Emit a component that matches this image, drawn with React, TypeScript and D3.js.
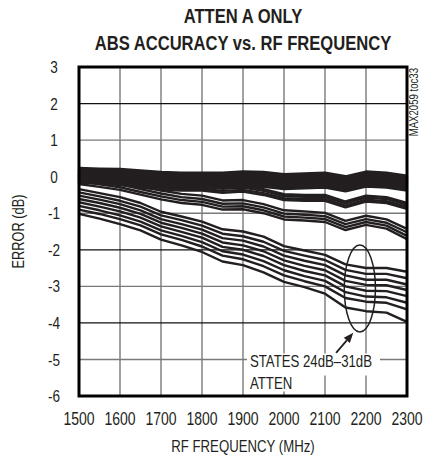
import React from "react";
import * as d3 from "d3";

const FREQS = [1500, 1550, 1600, 1650, 1700, 1750, 1800, 1850, 1900, 1950, 2000, 2050, 2100, 2150, 2200, 2250, 2300];
const X_TICKS = [1500, 1600, 1700, 1800, 1900, 2000, 2100, 2200, 2300];
const Y_TICKS = [3, 2, 1, 0, -1, -2, -3, -4, -5, -6];

// States grouped in the upper bundle (near 0 dB)
const TOP_BUNDLE = [
  [0.24, 0.22, 0.21, 0.17, 0.13, 0.11, 0.11, 0.11, 0.14, 0.13, 0.07, 0.09, 0.11, 0.01, 0.14, 0.11, 0.03],
  [0.21, 0.19, 0.18, 0.14, 0.10, 0.08, 0.08, 0.08, 0.11, 0.10, 0.04, 0.06, 0.08, -0.02, 0.11, 0.08, 0.00],
  [0.18, 0.16, 0.15, 0.11, 0.07, 0.05, 0.05, 0.05, 0.08, 0.07, 0.01, 0.03, 0.05, -0.05, 0.08, 0.05, -0.03],
  [0.15, 0.13, 0.12, 0.08, 0.04, 0.02, 0.02, 0.02, 0.05, 0.04, -0.02, 0.00, 0.02, -0.08, 0.05, 0.02, -0.06],
  [0.13, 0.11, 0.10, 0.06, 0.02, 0.00, 0.00, 0.00, 0.03, 0.02, -0.04, -0.02, 0.00, -0.10, 0.03, 0.00, -0.08],
  [0.10, 0.08, 0.07, 0.03, -0.01, -0.03, -0.03, -0.03, 0.00, -0.01, -0.07, -0.05, -0.03, -0.13, 0.00, -0.03, -0.11],
  [0.07, 0.05, 0.04, 0.00, -0.04, -0.06, -0.06, -0.06, -0.03, -0.04, -0.10, -0.08, -0.06, -0.16, -0.03, -0.06, -0.14],
  [0.05, 0.03, 0.02, -0.02, -0.06, -0.08, -0.08, -0.08, -0.05, -0.06, -0.12, -0.10, -0.08, -0.18, -0.05, -0.08, -0.16],
  [0.02, 0.00, -0.01, -0.05, -0.09, -0.11, -0.11, -0.11, -0.08, -0.09, -0.15, -0.13, -0.11, -0.21, -0.08, -0.11, -0.19],
  [-0.01, -0.03, -0.04, -0.08, -0.12, -0.14, -0.14, -0.14, -0.11, -0.12, -0.18, -0.16, -0.14, -0.24, -0.11, -0.14, -0.22],
  [-0.03, -0.05, -0.06, -0.10, -0.14, -0.16, -0.16, -0.16, -0.13, -0.14, -0.20, -0.18, -0.16, -0.26, -0.13, -0.16, -0.24],
  [-0.06, -0.08, -0.09, -0.13, -0.17, -0.19, -0.19, -0.19, -0.16, -0.17, -0.23, -0.21, -0.19, -0.29, -0.16, -0.19, -0.27],
  [-0.09, -0.11, -0.12, -0.16, -0.20, -0.22, -0.22, -0.22, -0.19, -0.20, -0.26, -0.24, -0.22, -0.32, -0.19, -0.22, -0.30],
  [-0.11, -0.13, -0.14, -0.18, -0.22, -0.24, -0.24, -0.24, -0.21, -0.22, -0.28, -0.26, -0.24, -0.34, -0.21, -0.24, -0.32],
  [-0.14, -0.16, -0.17, -0.21, -0.25, -0.27, -0.27, -0.27, -0.24, -0.25, -0.31, -0.29, -0.27, -0.37, -0.24, -0.27, -0.35],
  [-0.17, -0.19, -0.20, -0.24, -0.28, -0.30, -0.30, -0.30, -0.27, -0.28, -0.34, -0.32, -0.30, -0.40, -0.27, -0.30, -0.38],
];

// Second group (around -0.8 dB at 2300 MHz)
const MID_GROUP = [
  [0.03, -0.02, -0.07, -0.14, -0.20, -0.22, -0.22, -0.28, -0.25, -0.34, -0.48, -0.50, -0.50, -0.68, -0.52, -0.56, -0.72],
  [-0.02, -0.07, -0.12, -0.19, -0.25, -0.27, -0.27, -0.33, -0.30, -0.39, -0.53, -0.55, -0.55, -0.73, -0.57, -0.61, -0.77],
  [-0.08, -0.13, -0.18, -0.25, -0.31, -0.33, -0.33, -0.39, -0.36, -0.45, -0.59, -0.61, -0.61, -0.79, -0.63, -0.67, -0.83],
  [-0.13, -0.18, -0.23, -0.30, -0.36, -0.38, -0.38, -0.44, -0.41, -0.50, -0.64, -0.66, -0.66, -0.84, -0.68, -0.72, -0.88],
];

// Third group (around -1.6 dB at 2300 MHz)
const THIRD_GROUP = [
  [0.02, -0.06, -0.13, -0.26, -0.38, -0.47, -0.52, -0.65, -0.64, -0.75, -0.92, -0.95, -0.99, -1.21, -1.07, -1.17, -1.43],
  [-0.06, -0.14, -0.21, -0.34, -0.46, -0.56, -0.61, -0.74, -0.73, -0.84, -1.01, -1.04, -1.08, -1.30, -1.16, -1.26, -1.52],
  [-0.13, -0.21, -0.29, -0.42, -0.54, -0.64, -0.69, -0.82, -0.81, -0.92, -1.09, -1.12, -1.16, -1.38, -1.24, -1.34, -1.62],
  [-0.20, -0.28, -0.36, -0.49, -0.62, -0.72, -0.77, -0.90, -0.89, -1.00, -1.17, -1.20, -1.24, -1.46, -1.32, -1.42, -1.71],
];

// States 24dB–31dB
const STATES_24_31 = [
  [-0.34, -0.45, -0.56, -0.72, -0.96, -1.09, -1.23, -1.44, -1.50, -1.64, -1.90, -2.02, -2.14, -2.40, -2.50, -2.50, -2.60],
  [-0.43, -0.54, -0.66, -0.82, -1.06, -1.19, -1.34, -1.56, -1.63, -1.78, -2.03, -2.16, -2.28, -2.55, -2.66, -2.66, -2.78],
  [-0.52, -0.63, -0.75, -0.92, -1.16, -1.30, -1.45, -1.68, -1.75, -1.91, -2.16, -2.30, -2.42, -2.70, -2.82, -2.82, -2.95],
  [-0.61, -0.72, -0.85, -1.02, -1.26, -1.40, -1.56, -1.80, -1.88, -2.04, -2.29, -2.44, -2.56, -2.85, -2.96, -2.97, -3.10],
  [-0.70, -0.82, -0.95, -1.12, -1.36, -1.51, -1.67, -1.92, -2.00, -2.17, -2.42, -2.58, -2.70, -3.00, -3.12, -3.13, -3.27],
  [-0.80, -0.92, -1.06, -1.23, -1.47, -1.62, -1.79, -2.04, -2.13, -2.31, -2.56, -2.72, -2.85, -3.16, -3.28, -3.30, -3.45],
  [-0.90, -1.02, -1.16, -1.33, -1.58, -1.73, -1.91, -2.16, -2.26, -2.45, -2.70, -2.86, -3.00, -3.32, -3.42, -3.45, -3.63],
  [-1.02, -1.15, -1.30, -1.47, -1.72, -1.88, -2.06, -2.32, -2.42, -2.62, -2.88, -3.02, -3.20, -3.58, -3.68, -3.72, -3.97],
];

const TITLE_LINES = ["ATTEN A ONLY", "ABS ACCURACY vs. RF FREQUENCY"];
const X_LABEL = "RF FREQUENCY (MHz)";
const Y_LABEL = "ERROR (dB)";
const SIDE_LABEL = "MAX2059 toc33";
const ANNOT_LINES = ["STATES 24dB\u201331dB", "ATTEN"];

const W = 424;
const H = 457;
const LEFT = 79;
const RIGHT = 407;
const TOP = 67;
const BOTTOM = 396;
const FONT = "'Liberation Sans', Arial, sans-serif";
const INK = "#231f20";
const NARROW = 0.8;

type NTProps = {
  x: number;
  y: number;
  rotate?: number;
  anchor?: "start" | "middle" | "end";
  size: number;
  bold?: boolean;
  dy?: string;
  sx?: number;
  children: React.ReactNode;
};

function NText({ x, y, rotate = 0, anchor = "start", size, bold, dy, sx = NARROW, children }: NTProps) {
  return (
    <g transform={`translate(${x},${y}) rotate(${rotate}) scale(${sx},1)`}>
      <text x={0} y={0} dy={dy} textAnchor={anchor} fontSize={size} fontWeight={bold ? "bold" : "normal"} fill={INK}>
        {children}
      </text>
    </g>
  );
}

export default function App() {
  const x = d3.scaleLinear().domain([1500, 2300]).range([LEFT, RIGHT]);
  const y = d3.scaleLinear().domain([-6, 3]).range([BOTTOM, TOP]);
  const line = d3
    .line<number>()
    .x((_, i) => x(FREQS[i]))
    .y((d) => y(d));

  const allSeries = [...TOP_BUNDLE, ...MID_GROUP, ...THIRD_GROUP, ...STATES_24_31];

  // annotation geometry in data space
  const ell = { f: 2185, v: -3.06, rf: 38, rv: 1.19 };
  const arrowTail = { f: 2127, v: -4.82 };
  const arrowTip = { f: 2169, v: -4.27 };
  const tx = x(1917);
  const ty1 = y(-5.22);
  const ty2 = y(-5.82);

  const ax1 = x(arrowTail.f), ay1 = y(arrowTail.v);
  const ax2 = x(arrowTip.f), ay2 = y(arrowTip.v);
  const dx = ax2 - ax1, dy = ay2 - ay1;
  const len = Math.hypot(dx, dy);
  const ux = dx / len, uy = dy / len;
  const headL = 10, headW = 4;
  const bx = ax2 - ux * headL, by = ay2 - uy * headL;
  const head = `${ax2},${ay2} ${bx - uy * headW},${by + ux * headW} ${bx + uy * headW},${by - ux * headW}`;

  return (
    <svg
      width={W}
      height={H}
      style={{ position: "absolute", left: 0, top: 0, background: "#fff" }}
      fontFamily={FONT}
    >
      <rect x={0} y={0} width={W} height={H} fill="#fff" />
      {/* title */}
      {TITLE_LINES.map((t, i) => (
        <NText key={t} x={(LEFT + RIGHT) / 2} y={23 + i * 27} anchor="middle" size={21} bold sx={0.79}>
          {t}
        </NText>
      ))}

      {/* grid */}
      {X_TICKS.slice(1, -1).map((t) => (
        <line key={"gx" + t} x1={x(t)} x2={x(t)} y1={TOP} y2={BOTTOM} stroke="#7a7a7a" strokeWidth={1.4} />
      ))}
      {Y_TICKS.slice(1, -1).map((t) => (
        <line
          key={"gy" + t}
          x1={LEFT}
          x2={RIGHT}
          y1={y(t)}
          y2={y(t)}
          stroke={t % 2 === 0 ? "#111" : "#7a7a7a"}
          strokeWidth={t % 2 === 0 ? 1.2 : 1.4}
        />
      ))}

      {/* curves */}
      {allSeries.map((s, i) => (
        <path
          key={"s" + i}
          d={line(s) || ""}
          fill="none"
          stroke={INK}
          strokeWidth={2.4}
          strokeLinejoin="round"
          strokeLinecap="round"
        />
      ))}

      {/* annotation */}
      <ellipse
        cx={x(ell.f)}
        cy={y(ell.v)}
        rx={x(ell.f + ell.rf) - x(ell.f)}
        ry={y(ell.v - ell.rv) - y(ell.v)}
        fill="none"
        stroke={INK}
        strokeWidth={1.5}
      />
      <line x1={ax1} y1={ay1} x2={bx} y2={by} stroke={INK} strokeWidth={1.8} />
      <polygon points={head} fill={INK} />
      <rect x={tx - 3} y={ty1 - 14} width={133} height={22} fill="#fff" />
      <rect x={tx - 3} y={ty2 - 16} width={48} height={18} fill="#fff" />
      <NText x={tx} y={ty1} size={16.5}>
        {ANNOT_LINES[0]}
      </NText>
      <NText x={tx} y={ty2} size={16.5}>
        {ANNOT_LINES[1]}
      </NText>

      {/* frame */}
      <rect x={LEFT} y={TOP} width={RIGHT - LEFT} height={BOTTOM - TOP} fill="none" stroke="#000" strokeWidth={3} />

      {/* tick labels */}
      {Y_TICKS.map((t) => (
        <NText key={"yl" + t} x={54} y={y(t)} dy="0.36em" anchor="middle" size={17}>
          {t}
        </NText>
      ))}
      {X_TICKS.map((t) => (
        <NText key={"xl" + t} x={x(t)} y={425} anchor="middle" size={17.5}>
          {t}
        </NText>
      ))}
      <NText x={(LEFT + RIGHT) / 2} y={452} anchor="middle" size={16.5}>
        {X_LABEL}
      </NText>
      <NText x={24} y={(TOP + BOTTOM) / 2} rotate={-90} anchor="middle" size={16}>
        {Y_LABEL}
      </NText>
      <NText x={418} y={TOP + 1} rotate={-90} anchor="end" size={12}>
        {SIDE_LABEL}
      </NText>
    </svg>
  );
}
